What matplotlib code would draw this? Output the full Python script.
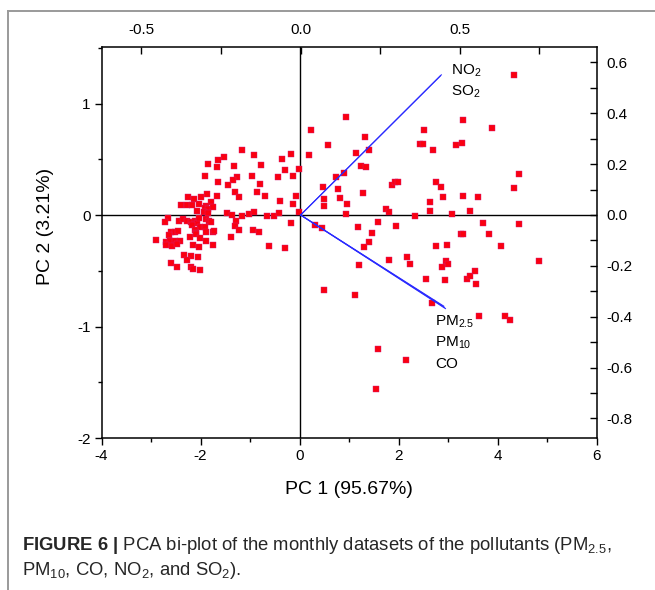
import matplotlib
matplotlib.use('Agg')
import matplotlib.pyplot as plt
from matplotlib import font_manager as fm
from matplotlib.ticker import FixedLocator, FormatStrFormatter
from matplotlib.lines import Line2D

# ---------------- data ----------------
pc1_scores = [
    -1.17, -0.92, -1.53, -1.64, -1.85, -1.33, -0.78, -0.35, -0.17, -1.67,
    -0.29, -0.02, -1.91, -1.27, -0.95, -0.44, -0.13, -1.65, -1.35, -1.44,
    -0.80, -1.30, -0.85, -1.86, -1.66, -1.22, -0.69, -0.39, -0.07, -0.14,
    -2.25, -2.14, -2.00, -1.78, -2.39, -2.28, -2.18, -2.04, -1.88, -1.91,
    -1.84, -1.75, -2.07, -1.92, -1.84, -1.47, -1.36, -1.17, -1.02, -0.91,
    -0.65, -0.51, -0.42, -0.02, -2.66, -2.72, -2.43, -2.36, -2.28, -2.20,
    -2.12, -2.08, -2.18, -2.03, -1.89, -1.83, -1.79, -1.29, -0.17, -2.02,
    -1.91, -1.30, -1.23, -0.93, -0.82, -2.60, -2.52, -2.45, -2.63, -2.11,
    -2.10, -1.89, -1.75, -1.73, -2.89, -2.69, -2.61, -2.52, -2.41, -2.21,
    -2.09, -2.01, -1.89, -2.69, -2.58, -2.47, -2.15, -2.03, -1.74, -1.38,
    -0.62, -0.29, -2.33, -2.19, -2.05, -2.27, -2.60, -2.47, -2.19, -2.15,
    -2.02,
    4.33, 0.93, 0.23, 3.30, 3.89, 2.51, 0.57, 1.32, 0.19, 1.15,
    1.41, 2.43, 2.50, 2.69, 3.16, 3.29, 1.24, 1.34, 0.73, 0.89,
    0.47, 0.77, 0.49, 0.81, 0.49, 0.95, 1.28, 0.94, 1.87, 1.92,
    1.99, 1.75, 1.80, 2.33, 2.63, 2.63, 2.75, 2.86, 2.90, 3.09,
    3.31, 3.61, 3.45, 4.34, 4.44, 0.31, 0.46, 1.18, 1.58, 1.47,
    1.94, 1.40, 1.31, 2.76, 2.97, 3.27, 3.31, 3.71, 3.82, 4.07,
    4.43, 1.20, 1.81, 2.17, 2.23, 2.96, 3.01, 2.87, 2.55, 2.94,
    3.38, 3.44, 3.55, 3.56, 4.83, 0.49, 1.12, 2.68, 3.63, 4.15,
    4.25, 1.58, 2.16, 1.54,
]
pc2_scores = [
    0.58, 0.54, 0.52, 0.49, 0.46, 0.44, 0.45, 0.50, 0.55, 0.43,
    0.40, 0.41, 0.35, 0.34, 0.35, 0.34, 0.35, 0.30, 0.31, 0.27,
    0.28, 0.21, 0.21, 0.19, 0.17, 0.16, 0.17, 0.13, 0.17, 0.10,
    0.16, 0.14, 0.16, 0.12, 0.09, 0.09, 0.09, 0.10, 0.08, 0.06,
    0.05, 0.07, 0.04, 0.03, 0.02, 0.02, 0.00, -0.01, 0.01, 0.03,
    -0.01, -0.01, 0.02, 0.03, -0.03, -0.06, -0.05, -0.04, -0.05, -0.06,
    -0.05, -0.07, -0.09, -0.03, -0.04, -0.05, -0.06, -0.05, -0.07, -0.11,
    -0.11, -0.10, -0.13, -0.13, -0.15, -0.15, -0.15, -0.14, -0.18, -0.13,
    -0.16, -0.15, -0.15, -0.14, -0.22, -0.24, -0.23, -0.23, -0.23, -0.20,
    -0.17, -0.21, -0.23, -0.27, -0.28, -0.26, -0.27, -0.29, -0.27, -0.20,
    -0.28, -0.30, -0.36, -0.37, -0.38, -0.40, -0.43, -0.47, -0.47, -0.48,
    -0.49,
    1.26, 0.88, 0.76, 0.85, 0.78, 0.76, 0.63, 0.70, 0.54, 0.56,
    0.58, 0.64, 0.64, 0.58, 0.63, 0.65, 0.44, 0.43, 0.34, 0.38,
    0.25, 0.23, 0.14, 0.15, 0.08, 0.10, 0.20, 0.01, 0.27, 0.30,
    0.30, 0.05, 0.03, -0.01, 0.12, 0.04, 0.30, 0.25, 0.16, 0.01,
    0.17, 0.16, 0.04, 0.24, 0.37, -0.09, -0.12, -0.11, -0.06, -0.16,
    -0.10, -0.24, -0.29, -0.28, -0.27, -0.17, -0.17, -0.07, -0.17, -0.28,
    -0.08, -0.45, -0.40, -0.38, -0.44, -0.41, -0.44, -0.47, -0.57, -0.58,
    -0.57, -0.55, -0.50, -0.62, -0.41, -0.67, -0.72, -0.79, -0.91, -0.91,
    -0.94, -1.20, -1.30, -1.56,
]

loading_names = ['NO2', 'SO2', 'PM2.5', 'PM10', 'CO']
loading_pc1 = [0.442, 0.439, 0.449, 0.452, 0.455]
loading_pc2 = [0.551, 0.547, -0.358, -0.363, -0.368]

upper_labels = [r'NO$_2$', r'SO$_2$']
lower_labels = [r'PM$_{2.5}$', r'PM$_{10}$', 'CO']

score_xticks = [-4, -2, 0, 2, 4, 6]
score_yticks = [-2, -1, 0, 1]
load_xticks = [-0.5, 0.0, 0.5]
load_yticks = [-0.8, -0.6, -0.4, -0.2, 0.0, 0.2, 0.4, 0.6]

xlabel_text = 'PC 1 (95.67%)'
ylabel_text = 'PC 2 (3.21%)'

# ---------------- fonts ----------------
names = {f.name for f in fm.fontManager.ttflist}
BASE = 'Liberation Sans' if 'Liberation Sans' in names else 'DejaVu Sans'
NARROW = 'Liberation Sans Narrow' if 'Liberation Sans Narrow' in names else BASE

plt.rcParams.update({
    'font.family': [BASE, 'DejaVu Sans'],
    'mathtext.fontset': 'custom',
    'mathtext.rm': BASE,
    'mathtext.it': BASE + ':italic',
    'mathtext.bf': NARROW + ':bold',
    'axes.unicode_minus': False,
})

W, H = 655, 590
fig = plt.figure(figsize=(W / 100, H / 100), dpi=100)

# outer frame lines (top and left)
fig.add_artist(Line2D([7.5 / W, 1.0], [1 - 11 / H, 1 - 11 / H], color='#9a9a9a', lw=1.4))
fig.add_artist(Line2D([7.5 / W, 7.5 / W], [0.0, 1 - 11 / H], color='#9a9a9a', lw=1.4))

pos = [101.5 / W, 152 / H, 495 / W, 391 / H]
ax = fig.add_axes(pos)
ax.set_xlim(-4, 6)
ax.set_ylim(-2, 1.507)
ax.axhline(0, color='black', lw=1.0, zorder=1)
ax.axvline(0, color='black', lw=1.0, zorder=1)
ax.plot(pc1_scores, pc2_scores, linestyle='none', marker='s', ms=4.2,
        mfc='#fa0010', mec='#d0207a', mew=0.3, zorder=3)

ax.xaxis.set_major_locator(FixedLocator(score_xticks))
ax.xaxis.set_minor_locator(FixedLocator([-3, -1, 1, 3, 5]))
ax.yaxis.set_major_locator(FixedLocator(score_yticks))
ax.yaxis.set_minor_locator(FixedLocator([-1.5, -0.5, 0.5, 1.5]))
ax.tick_params(axis='both', which='major', direction='out', length=5, width=1.0,
               labelsize=11, pad=3)
ax.tick_params(axis='both', which='minor', direction='out', length=3, width=1.0)
ax.tick_params(top=False, right=False, which='both')
for s in ax.spines.values():
    s.set_linewidth(1.1)
    s.set_color('black')

# loading axes (top / right)
ax2 = fig.add_axes(pos, facecolor='none')
ax2.set_xlim(-0.6254, 0.9295)
ax2.set_ylim(-0.8769, 0.6606)
for s in ax2.spines.values():
    s.set_visible(False)
ax2.xaxis.tick_top()
ax2.yaxis.tick_right()
ax2.xaxis.set_major_locator(FixedLocator(load_xticks))
ax2.xaxis.set_minor_locator(FixedLocator([-0.25, 0.25, 0.75]))
ax2.yaxis.set_major_locator(FixedLocator(load_yticks))
ax2.yaxis.set_minor_locator(FixedLocator([-0.7, -0.5, -0.3, -0.1, 0.1, 0.3, 0.5]))
ax2.xaxis.set_major_formatter(FormatStrFormatter('%.1f'))
ax2.yaxis.set_major_formatter(FormatStrFormatter('%.1f'))
ax2.tick_params(axis='x', which='both', direction='in', length=5, width=1.0,
                labelsize=11, pad=7)
ax2.tick_params(axis='y', which='both', direction='in', length=5, width=1.0,
                labelsize=11, pad=7)

for lx, ly in zip(loading_pc1, loading_pc2):
    ax2.plot([0, lx], [0, ly], color='#2a2aff', lw=0.8, zorder=4)

# loading labels
ax2.annotate(upper_labels[0], xy=(loading_pc1[0], loading_pc2[0]), xytext=(7, 0),
             textcoords='offset points', fontsize=11, va='baseline', ha='left')
ax2.annotate(upper_labels[1], xy=(loading_pc1[0], loading_pc2[0]), xytext=(7, -15),
             textcoords='offset points', fontsize=11, va='baseline', ha='left')
for k, lab in enumerate(lower_labels):
    ax2.annotate(lab, xy=(loading_pc1[3], loading_pc2[3]), xytext=(-6.5, -13 - 15.5 * k),
                 textcoords='offset points', fontsize=11, va='baseline', ha='left')

# axis titles
fig.text(349 / W, 1 - 490 / H, xlabel_text, ha='center', va='center', fontsize=14)
fig.text(45 / W, 1 - 226.5 / H, ylabel_text, ha='center', va='center',
         rotation=90, fontsize=14)

# caption
cap1 = r'$\mathbf{FIGURE\ 6\ |}$ PCA bi-plot of the monthly datasets of the pollutants (PM$_{2.5}$,'
cap2 = r'PM$_{10}$, CO, NO$_2$, and SO$_2$).'
fig.text(22 / W, 1 - 550 / H, cap1, ha='left', va='baseline', fontsize=13.3,
         family=[NARROW, 'DejaVu Sans'], color='#262626')
fig.text(22 / W, 1 - 575 / H, cap2, ha='left', va='baseline', fontsize=13.3,
         family=[NARROW, 'DejaVu Sans'], color='#262626')

fig.savefig('out.png', dpi=100)
